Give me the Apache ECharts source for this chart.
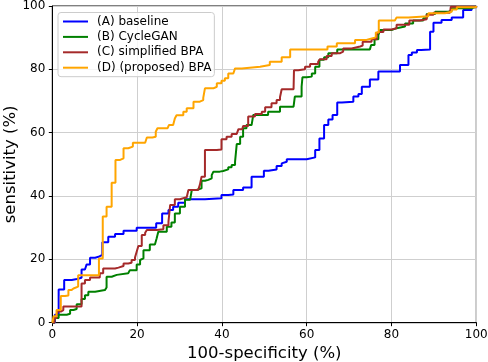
<!DOCTYPE html>
<html>
<head>
<meta charset="utf-8">
<script src="https://cdn.jsdelivr.net/npm/echarts@6/dist/echarts.min.js"></script>
<style>
    html, body { margin: 0; padding: 0; background: #fff; }
    #chart { width: 488px; height: 362px; }
</style>
</head>
<body>
<div id="chart"></div>
<script>
    // ROC curves, [100-specificity, sensitivity] in %
    var seriesNames = ['(A) baseline', '(B) CycleGAN', '(C) simplified BPA', '(D) (proposed) BPA'];
    var seriesColors = ['#0000ff', '#008000', '#a52a2a', '#ffa500'];

    var baselinePts = [[0,0],[0.6,0],[0.6,2.5],[1.5,2.5],[1.5,10.5],[2.8,10.5],[2.8,13.5],[4.6,13.8],[5.8,14.2],[6.9,14.5],[6.9,16.8],[7.7,17.4],[8.1,18.4],[8.9,18.6],[8.9,20.5],[10.1,20.8],[10.9,21.4],[11.8,21.6],[11.8,25.4],[13.2,25.6],[13.2,27.1],[14.8,28.0],[16.8,29.0],[19.9,29.3],[19.9,30.0],[23.8,30.0],[24.5,31.4],[25.9,31.4],[25.9,34.5],[27.4,35.6],[28.5,36.6],[29.7,37.9],[31.3,39.0],[36,39.3],[39.9,39.6],[39.9,40.3],[41.5,40.5],[42.7,41.9],[45.0,42.7],[47.0,42.9],[47.0,46.1],[49.9,46.3],[49.9,48.0],[51.0,48.4],[52.9,48.7],[52.9,49.5],[54.1,50.3],[54.1,50.8],[55.3,51.6],[60.0,51.6],[60.0,52.2],[62.0,52.4],[62.0,54.5],[63.0,54.7],[63.0,58.2],[64.1,58.5],[64.1,62.4],[65.1,62.7],[65.1,64.2],[66.1,64.2],[66.1,65.6],[67.2,65.9],[67.2,69.5],[68.3,69.8],[71.0,70.1],[71.0,71.4],[72.2,72.2],[73.0,72.2],[73.0,74.5],[74.9,76.8],[76.9,76.8],[76.9,79.3],[82.0,79.3],[82.0,81.4],[84.0,81.4],[84.0,84.5],[84.8,84.5],[84.8,85.3],[86.0,85.6],[86.0,86.1],[87.0,86.3],[89.1,86.3],[89.1,91.9],[89.9,91.9],[89.9,94.7],[91.8,94.7],[91.8,95.6],[94.2,95.6],[94.2,96.4],[96.9,96.4],[96.9,98.7],[98.9,98.7],[98.9,99.6],[100,100]];

    var cycleganPts = [[0,0],[0.5,0],[0.5,1.5],[1.5,1.5],[1.5,2.5],[3.4,2.8],[4.2,4.0],[5.0,4.3],[5.75,5.8],[6.9,7.5],[7.7,8.7],[8.5,9.8],[10.1,10.3],[12.4,10.5],[12.8,11.1],[12.8,14.5],[14.0,15.1],[15.2,15.6],[17.9,15.9],[18.3,16.6],[19.9,17.0],[19.9,18.4],[20.7,19.8],[21.1,20.3],[21.5,22.9],[23.0,24.0],[23.0,24.7],[24.2,24.7],[24.6,26.6],[25.0,28.7],[27.0,29.3],[27.0,30.3],[28.1,31.6],[28.9,31.8],[28.9,34.5],[30.1,36.6],[31.3,38.8],[32.5,39.3],[32.9,41.9],[34.0,42.4],[35.2,44.8],[36.0,45.1],[36.8,45.6],[37.6,46.6],[38.0,47.7],[39.5,47.9],[40.3,48.4],[41.5,49.1],[42.3,49.8],[43.1,50.8],[43.5,56.4],[44.3,58.7],[45.0,61.4],[45.8,62.4],[47.0,62.7],[47.4,65.6],[50.9,66.6],[53.7,68.2],[56.9,68.7],[57.2,71.4],[58.8,74.5],[59.0,77.5],[60.0,77.7],[61.2,78.7],[62.0,80.8],[63.0,83.0],[64.1,83.8],[65.1,85.1],[67.2,86.3],[74.9,86.5],[75.2,87.7],[76.0,89.5],[76.9,90.8],[77.3,92.4],[80.0,93.0],[81.2,93.5],[83.2,94.5],[85.1,95.4],[87.5,96.1],[88.3,97.5],[90.3,98.2],[93.4,98.5],[94.2,99.3],[98.9,99.8],[100,100]];

    var simplifiedPts = [[0,0],[0.5,0],[0.5,1.5],[1.0,2.5],[1.2,3.5],[2.0,4.0],[2.6,5.1],[6.9,5.3],[6.9,12.4],[7.7,13.5],[8.9,14.3],[11.2,15.6],[12.0,15.8],[12.0,17.1],[14.8,17.4],[15.6,17.9],[16.8,18.7],[17.9,18.9],[18.7,19.8],[19.5,20.6],[19.9,22.4],[20.3,24.2],[21.1,27.7],[21.9,28.4],[22.3,29.3],[24.6,29.5],[26.2,30.8],[27.4,31.9],[27.8,37.2],[28.9,39.0],[30.1,39.6],[31.7,40.0],[32.1,41.9],[34.4,42.2],[34.8,43.5],[35.2,46.1],[36.0,54.5],[38.8,54.7],[39.9,55.4],[39.9,57.9],[41.1,58.7],[42.3,59.6],[43.5,59.8],[43.9,61.1],[44.8,61.4],[45.0,62.1],[46.2,65.1],[47.8,65.9],[49.4,66.6],[50.2,68.0],[51.7,69.3],[52.9,70.3],[53.7,71.2],[54.1,73.7],[56.9,74.0],[57.0,79.7],[58.0,80.0],[59.6,80.8],[60.8,81.7],[62.7,82.4],[63.1,83.2],[64.7,84.2],[65.9,85.1],[67.9,85.6],[68.6,86.6],[70.6,87.2],[72.6,87.5],[73.2,88.7],[75.3,89.5],[76.5,90.8],[76.9,91.8],[78.1,92.6],[80.0,93.0],[81.2,94.1],[84.2,95.4],[86.7,95.8],[88.3,97.2],[89.9,97.9],[93.8,98.5],[94.0,99.8],[100,100]];

    var proposedPts = [[0,0],[0.3,0],[0.3,2],[1.0,2.5],[1.0,4],[2.0,4],[2.0,8.4],[3.0,8.6],[3.8,10.3],[4.5,10.8],[5.0,11.4],[6.1,11.6],[6.1,15.0],[11.0,15.0],[11.0,20.3],[11.9,20.5],[11.9,33.5],[12.8,33.7],[12.8,36.6],[14.0,36.8],[14.0,44.2],[14.9,44.4],[14.9,51.4],[16.0,51.9],[16.8,55.1],[17.9,55.6],[19.0,56.8],[21.9,56.9],[22.3,58.5],[23.6,58.7],[24.4,60.3],[24.8,61.4],[27.2,61.7],[27.5,62.4],[28.5,62.7],[28.9,64.5],[29.3,65.5],[30.9,66.6],[31.7,67.7],[33.3,69.8],[34.8,70.3],[35.6,71.0],[36.0,74.0],[38.0,74.5],[38.8,75.6],[39.9,76.4],[40.7,77.2],[41.5,78.7],[42.7,79.3],[43.1,80.3],[44.7,80.8],[49.0,80.9],[49.4,81.4],[51.3,82.4],[54.1,83.8],[56.1,86.3],[64.9,86.4],[64.9,87.2],[67.1,88.2],[71.4,89.3],[74.1,89.6],[74.9,90.1],[76.3,91.6],[77.0,95.4],[80.8,95.6],[81.2,96.4],[84.0,96.8],[88.7,97.7],[92.6,98.2],[94.2,98.9],[95.4,99.6],[100,100]];

    var allPts = [baselinePts, cycleganPts, simplifiedPts, proposedPts];

    var myChart = echarts.init(document.getElementById('chart'));

    var font = 'DejaVu Sans';
    var series = [];
    for (var i = 0; i < allPts.length; i++) {
        series.push({
            name: seriesNames[i],
            type: 'line',
            data: allPts[i],
            step: 'end',
            symbol: 'none',
            color: seriesColors[i],
            lineStyle: { width: 2, color: seriesColors[i] },
            clip: true,
            animation: false
        });
    }

    var option = {
        animation: false,
        grid: {
            left: 52.3,
            right: 11.7,
            top: 6,
            bottom: 39.3,
            outerBoundsMode: 'none',
            containLabel: false,
            show: true,
            borderColor: '#000',
            borderWidth: 1,
            backgroundColor: 'transparent'
        },
        legend: {
            orient: 'vertical',
            left: 58,
            top: 12.5,
            data: seriesNames,
            itemWidth: 25,
            itemHeight: 14,
            itemGap: 3.4,
            padding: [3, 3, 3, 4],
            backgroundColor: 'rgba(255,255,255,0.8)',
            borderColor: '#cccccc',
            borderWidth: 1,
            borderRadius: 3,
            itemStyle: { opacity: 0 },
            textStyle: { fontFamily: font, fontSize: 12, color: '#000', padding: [0, 0, 0, 4] }
        },
        xAxis: {
            type: 'value',
            min: 0,
            max: 100,
            interval: 20,
            name: '100-specificity (%)',
            nameLocation: 'middle',
            nameGap: 23,
            nameMoveOverlap: false,
            nameTextStyle: { fontFamily: font, fontSize: 16.5, color: '#000' },
            axisLine: { show: true, lineStyle: { color: '#000', width: 1 } },
            axisTick: { show: true, inside: false, length: 3.5, lineStyle: { color: '#000', width: 1 } },
            axisLabel: { fontFamily: font, fontSize: 12, color: '#000', margin: 6 },
            splitLine: { show: true, lineStyle: { color: '#cfcfcf', width: 1 } }
        },
        yAxis: {
            type: 'value',
            min: 0,
            max: 100,
            interval: 20,
            name: 'sensitivity (%)',
            nameLocation: 'middle',
            nameGap: 33,
            nameMoveOverlap: false,
            nameTextStyle: { fontFamily: font, fontSize: 16.5, color: '#000' },
            axisLine: { show: true, lineStyle: { color: '#000', width: 1 } },
            axisTick: { show: true, inside: false, length: 3.5, lineStyle: { color: '#000', width: 1 } },
            axisLabel: { fontFamily: font, fontSize: 12, color: '#000', margin: 7 },
            splitLine: { show: true, lineStyle: { color: '#cfcfcf', width: 1 } }
        },
        series: series
    };

    myChart.setOption(option);
</script>
</body>
</html>
